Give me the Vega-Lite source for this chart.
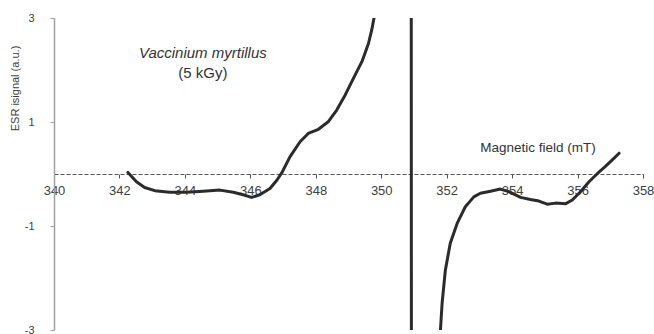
{
  "$schema": "https://vega.github.io/schema/vega-lite/v6.json",
  "width": 589,
  "height": 312,
  "autosize": {"type": "none"},
  "padding": {"left": 54, "top": 18, "right": 11, "bottom": 4},
  "background": "white",
  "config": {
    "view": {"stroke": null},
    "font": "Liberation Sans",
    "axis": {"grid": false, "labelFont": "Liberation Sans", "titleFont": "Liberation Sans"}
  },
  "layer": [
    {
      "data": {"values": [
        {"field": 342.26, "signal": 0.03},
        {"field": 342.52, "signal": -0.15},
        {"field": 342.77, "signal": -0.26},
        {"field": 343.08, "signal": -0.32},
        {"field": 343.54, "signal": -0.35},
        {"field": 344.05, "signal": -0.35},
        {"field": 344.56, "signal": -0.33},
        {"field": 345.07, "signal": -0.31},
        {"field": 345.48, "signal": -0.35},
        {"field": 345.78, "signal": -0.40},
        {"field": 346.04, "signal": -0.45},
        {"field": 346.29, "signal": -0.40},
        {"field": 346.60, "signal": -0.28},
        {"field": 346.81, "signal": -0.12},
        {"field": 346.96, "signal": 0.02},
        {"field": 347.21, "signal": 0.33},
        {"field": 347.52, "signal": 0.62},
        {"field": 347.77, "signal": 0.78},
        {"field": 348.08, "signal": 0.86},
        {"field": 348.39, "signal": 1.01},
        {"field": 348.64, "signal": 1.23},
        {"field": 348.90, "signal": 1.52},
        {"field": 349.15, "signal": 1.84},
        {"field": 349.41, "signal": 2.16},
        {"field": 349.61, "signal": 2.51},
        {"field": 349.71, "signal": 2.77},
        {"field": 349.78, "signal": 3.0},
        {"field": 349.85, "signal": 3.4},
        {"field": 350.0, "signal": 5},
        {"field": 350.88, "signal": 60},
        {"field": 350.96, "signal": -60},
        {"field": 351.7, "signal": -5},
        {"field": 351.81, "signal": -3.0},
        {"field": 351.86, "signal": -2.49},
        {"field": 351.96, "signal": -1.85},
        {"field": 352.11, "signal": -1.33},
        {"field": 352.32, "signal": -0.95},
        {"field": 352.57, "signal": -0.63},
        {"field": 352.83, "signal": -0.44},
        {"field": 353.03, "signal": -0.37},
        {"field": 353.34, "signal": -0.33},
        {"field": 353.64, "signal": -0.29},
        {"field": 353.90, "signal": -0.34},
        {"field": 354.26, "signal": -0.45},
        {"field": 354.56, "signal": -0.49},
        {"field": 354.82, "signal": -0.52},
        {"field": 355.07, "signal": -0.58},
        {"field": 355.33, "signal": -0.56},
        {"field": 355.64, "signal": -0.57},
        {"field": 355.84, "signal": -0.50},
        {"field": 356.09, "signal": -0.34},
        {"field": 356.35, "signal": -0.15},
        {"field": 356.61, "signal": 0.01},
        {"field": 356.86, "signal": 0.15},
        {"field": 357.11, "signal": 0.30},
        {"field": 357.27, "signal": 0.40}
      ]},
      "mark": {"type": "line", "color": "#2b2b2b", "strokeWidth": 3, "clip": true, "strokeCap": "round", "strokeJoin": "round"},
      "encoding": {
        "x": {
          "field": "field", "type": "quantitative",
          "scale": {"domain": [340, 358], "nice": false, "zero": false},
          "axis": {
            "values": [340, 342, 344, 346, 348, 350, 352, 354, 356, 358],
            "offset": -156,
            "title": null,
            "domainColor": "#555555",
            "domainDash": [4, 2],
            "domainWidth": 1,
            "tickColor": "#555555",
            "tickSize": 4,
            "labelFontSize": 13,
            "labelColor": "#404040",
            "labelPadding": 6,
            "labelFlush": false,
            "labelOverlap": false
          }
        },
        "y": {
          "field": "signal", "type": "quantitative",
          "scale": {"domain": [-3, 3], "nice": false, "zero": false},
          "axis": {
            "values": [-3, -1, 1, 3],
            "title": "ESR isignal (a.u.)",
            "titleFontSize": 11,
            "titleFontWeight": "normal",
            "titleColor": "#404040",
            "titleX": -39,
            "titleY": 70,
            "titleAngle": -90,
            "titleAlign": "center",
            "titleBaseline": "middle",
            "domainColor": "#a0a0a0",
            "domainWidth": 1.5,
            "tickColor": "#a0a0a0",
            "tickSize": 4,
            "labelFontSize": 11,
            "labelColor": "#404040",
            "labelPadding": 16,
            "labelExpr": "replace(datum.label, '\u2212', '-')"
          }
        }
      }
    },
    {
      "data": {"values": [{"field": 344.55, "signal": 2.33, "label": "Vaccinium myrtillus"}]},
      "mark": {"type": "text", "fontSize": 15, "fontStyle": "italic", "color": "#333333", "align": "center", "baseline": "middle"},
      "encoding": {
        "x": {"field": "field", "type": "quantitative"},
        "y": {"field": "signal", "type": "quantitative"},
        "text": {"field": "label"}
      }
    },
    {
      "data": {"values": [{"field": 344.55, "signal": 1.94, "label": "(5 kGy)"}]},
      "mark": {"type": "text", "fontSize": 15, "color": "#333333", "align": "center", "baseline": "middle"},
      "encoding": {
        "x": {"field": "field", "type": "quantitative"},
        "y": {"field": "signal", "type": "quantitative"},
        "text": {"field": "label"}
      }
    },
    {
      "data": {"values": [{"field": 354.79, "signal": 0.5, "label": "Magnetic field (mT)"}]},
      "mark": {"type": "text", "fontSize": 13.5, "color": "#333333", "align": "center", "baseline": "middle"},
      "encoding": {
        "x": {"field": "field", "type": "quantitative"},
        "y": {"field": "signal", "type": "quantitative"},
        "text": {"field": "label"}
      }
    }
  ]
}
